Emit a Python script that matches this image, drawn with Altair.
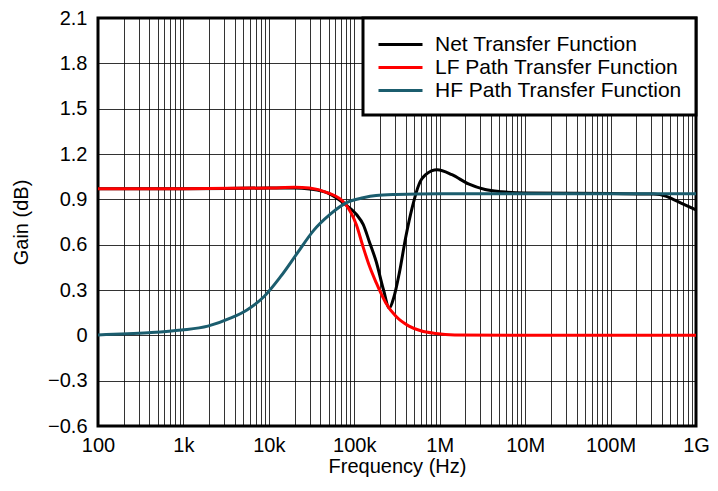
import altair as alt
import pandas as pd

series_names = ["Net Transfer Function", "LF Path Transfer Function", "HF Path Transfer Function"]
series_colors = ["#000000", "#ff0000", "#1b5d6e"]

net_freq = [1e2, 1e3, 1e4, 2e4, 3e4, 5e4, 7.7e4, 1.06e5, 1.27e5, 1.5e5, 1.8e5, 2.2e5, 2.57e5,
            2.9e5, 3.36e5, 4.0e5, 4.76e5, 5.73e5, 6.84e5, 9.35e5, 1.39e6, 2.17e6, 3.4e6, 5.3e6, 1e7,
            1e8, 3.16e8, 4.5e8, 5.4e8, 7e8, 1e9]
net_gain = [0.97, 0.97, 0.975, 0.975, 0.968, 0.94, 0.87, 0.80, 0.734, 0.62, 0.49, 0.30, 0.18,
            0.25, 0.41, 0.649, 0.845, 1.0, 1.063, 1.095, 1.063, 1.002, 0.965, 0.95, 0.942,
            0.938, 0.935, 0.92, 0.90, 0.87, 0.83]

lf_freq = [1e2, 1e3, 1e4, 2e4, 3e4, 4.8e4, 7.7e4, 1.06e5, 1.27e5, 1.5e5, 1.8e5, 2.35e5, 3.07e5, 4.37e5,
           6.0e5, 9.0e5, 1.5e6, 1e7, 1e9]
lf_gain = [0.97, 0.97, 0.975, 0.98, 0.975, 0.945, 0.875, 0.73, 0.584, 0.46, 0.35, 0.213, 0.126, 0.061,
           0.03, 0.012, 0.003, 0.0, 0.0]

hf_freq = [1e2, 3.9e2, 9.5e2, 1.93e3, 3.6e3, 5.6e3, 8.8e3, 1.37e4, 2.13e4, 3.33e4, 5.2e4, 8.1e4, 1.27e5,
           1.8e5, 3.07e5, 1e6, 1e9]
hf_gain = [0.003, 0.017, 0.035, 0.061, 0.115, 0.17, 0.257, 0.388, 0.54, 0.693, 0.80, 0.878, 0.91,
           0.925, 0.932, 0.937, 0.937]

x_decades = [1e2, 1e3, 1e4, 1e5, 1e6, 1e7, 1e8, 1e9]
x_labels = ["100", "1k", "10k", "100k", "1M", "10M", "100M", "1G"]
y_ticks = [-0.6, -0.3, 0.0, 0.3, 0.6, 0.9, 1.2, 1.5, 1.8, 2.1]

rows = []
for name, fr, gn in [(series_names[0], net_freq, net_gain),
                     (series_names[1], lf_freq, lf_gain),
                     (series_names[2], hf_freq, hf_gain)]:
    for i, (f, g) in enumerate(zip(fr, gn)):
        rows.append({"series": name, "freq": f, "gain": g, "order": i})
df = pd.DataFrame(rows)

# grid values: 1..9 x each decade
grid_vals = []
for d in x_decades[:-1]:
    for k in range(1, 10):
        grid_vals.append(d * k)
grid_vals.append(x_decades[-1])

label_expr = ""
for v, l in zip(x_decades, x_labels):
    label_expr += f"abs(datum.value - {v}) < {v}*1e-6 ? '{l}' : "
label_expr += "''"

font = "Liberation Sans"

chart = alt.Chart(df).mark_line(strokeWidth=3, interpolate="monotone").encode(
    x=alt.X("freq:Q",
            scale=alt.Scale(type="log", domain=[1e2, 1e9], nice=False),
            axis=alt.Axis(values=grid_vals, labelExpr=label_expr, labelOverlap=False, labelFlush=False,
                          ticks=False, domain=False, labelPadding=9,
                          title="Frequency (Hz)", titleBaseline="alphabetic", titleY=46, titlePadding=0)),
    y=alt.Y("gain:Q",
            scale=alt.Scale(domain=[-0.6, 2.1], nice=False, zero=False),
            axis=alt.Axis(values=y_ticks,
                          labelExpr="datum.value == 0 ? '0' : format(datum.value, '.1f')",
                          ticks=False, domain=False, labelPadding=11,
                          title="Gain (dB)", titleX=-77, titleY=204, titleAngle=-90,
                          titleBaseline="middle")),
    color=alt.Color("series:N",
                    scale=alt.Scale(domain=series_names, range=series_colors),
                    sort=series_names,
                    legend=alt.Legend(title=None, orient="top-right", offset=0)),
    order="order:Q",
).properties(
    width=598, height=408,
    padding={"left": 90, "top": 10, "right": 14, "bottom": 52},
    autosize=alt.AutoSizeParams(type="none"),
).configure_view(
    stroke="black", strokeWidth=3
).configure_axis(
    gridColor="#000000", gridOpacity=0.8, gridWidth=1,
    labelFont=font, labelFontSize=20, labelColor="black",
    titleFont=font, titleFontSize=20, titleFontWeight="normal", titleColor="black",
).configure_legend(
    labelFont=font, labelFontSize=21, labelColor="black", labelLimit=500,
    symbolType="M-1,0H3", symbolStrokeWidth=3, symbolSize=484,
    labelOffset=33, rowPadding=0, padding=14,
    fillColor="white", strokeColor="black", strokeWidth=3,
)

chart.save("out.html", embed_options={"renderer": "svg", "actions": False})
